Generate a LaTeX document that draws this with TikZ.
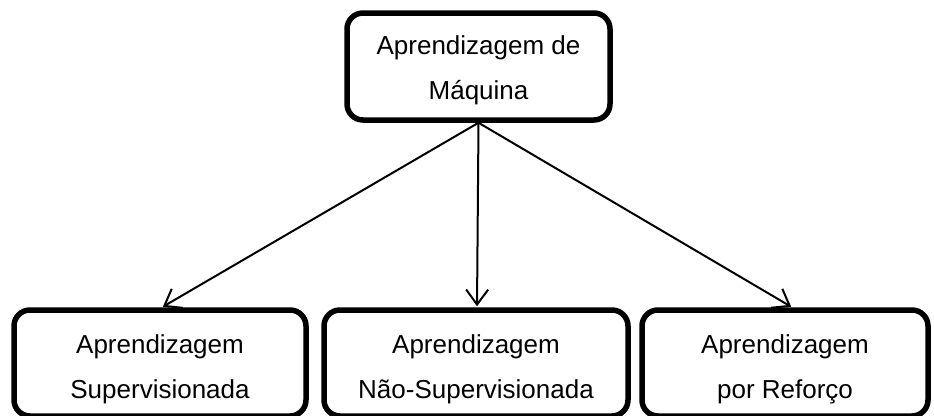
\documentclass[tikz,border=0pt]{standalone}
\usepackage{fontspec}
\setmainfont{Liberation Sans}
\usetikzlibrary{arrows.meta}
\begin{document}
\begin{tikzpicture}[x=1pt,y=-1pt,
  box/.style={draw, line width=5.5pt, rounded corners=16pt, inner sep=0pt},
  txt/.style={align=center, font=\fontsize{26}{45}\selectfont, inner sep=0pt},
  link/.style={line width=2pt, -{Straight Barb[length=15pt,width=22pt,line width=2pt]}, shorten >=1pt}]
\useasboundingbox (0,0) rectangle (934,415);

% root category
\node[box, minimum width=263pt, minimum height=107pt] (ml) at (478.5,66.5) {};
\node[txt, yshift=-4pt] (mlt) at (ml.center) {Aprendizagem de\\Máquina};

% three learning paradigms
\node[box, minimum width=292pt, minimum height=106pt] (sup) at (160,363) {};
\node[box, minimum width=304pt, minimum height=106pt] (uns) at (476,363) {};
\node[box, minimum width=286pt, minimum height=106pt] (ref) at (785,363) {};
\node[txt, yshift=-6pt] (supt) at (sup.center) {Aprendizagem\\Supervisionada};
\node[txt, yshift=-6pt] (unst) at (uns.center) {Aprendizagem\\Não-Supervisionada};
\node[txt, yshift=-6pt] (reft) at (ref.center) {Aprendizagem\\por Reforço};

% connectors
\draw[link] (ml.south) -- ([xshift=2pt]sup.north);
\draw[link] (ml.south) -- ([xshift=1pt]uns.north);
\draw[link] (ml.south) -- ([xshift=7pt]ref.north);
\end{tikzpicture}
\end{document}
